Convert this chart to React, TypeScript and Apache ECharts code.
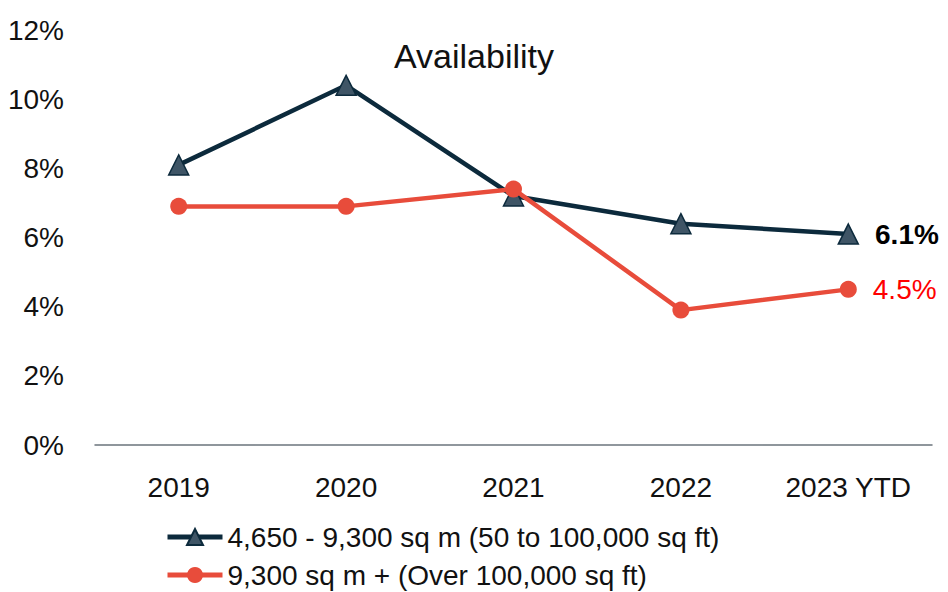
import React, { useEffect, useRef } from "react";
import * as echarts from "echarts";

const categories = ["2019", "2020", "2021", "2022", "2023 YTD"];
const smallUnits = [8.1, 10.4, 7.2, 6.4, 6.1];
const largeUnits = [6.9, 6.9, 7.4, 3.9, 4.5];
const seriesNames = ["4,650 - 9,300 sq m (50 to 100,000 sq ft)", "9,300 sq m + (Over 100,000 sq ft)"];
const FONT = "'Liberation Sans', Arial, sans-serif";

export default function App() {
  const ref = useRef<HTMLDivElement>(null);
  useEffect(() => {
    if (!ref.current) return;
    const chart = echarts.init(ref.current, null, { renderer: "svg" });
    const last = categories.length - 1;
    const mk = (vals: number[], labelStyle: any) =>
      vals.map((v, i) =>
        i === last
          ? { value: v, label: { show: true, position: "right", distance: 16, formatter: (p: any) => p.value.toFixed(1) + "%", ...labelStyle } }
          : v
      );
    chart.setOption({
      animation: false,
      textStyle: { fontFamily: FONT },
      title: {
        text: "Availability",
        left: "center",
        top: 34,
        textStyle: { fontFamily: FONT, fontSize: 34, fontWeight: "normal", color: "#111" },
      },
      grid: { left: 95, right: 16, top: 30, bottom: 147 },
      xAxis: {
        type: "category",
        data: categories,
        boundaryGap: true,
        axisLine: { lineStyle: { color: "#6b747c", width: 1.5 } },
        axisTick: { show: false },
        axisLabel: { color: "#111", fontSize: 28, fontFamily: FONT, margin: 28 },
      },
      yAxis: {
        type: "value",
        min: 0,
        max: 12,
        interval: 2,
        axisLine: { show: false },
        axisTick: { show: false },
        splitLine: { show: false },
        axisLabel: { color: "#111", fontSize: 28, fontFamily: FONT, margin: 31, formatter: "{value}%" },
      },
      legend: {
        orient: "vertical",
        left: 165,
        top: 522,
        padding: 0,
        itemWidth: 55,
        itemHeight: 20,
        itemGap: 8,
        lineStyle: { width: 5 },
        textStyle: { fontSize: 28, lineHeight: 30, color: "#111", fontFamily: FONT },
        data: seriesNames,
      },
      series: [
        {
          name: seriesNames[0],
          type: "line",
          data: mk(smallUnits, { color: "#000", fontWeight: "bold", fontSize: 28, fontFamily: FONT }),
          symbol: "triangle",
          symbolSize: 20,
          lineStyle: { color: "#0c2a3c", width: 4.5 },
          itemStyle: { color: "#3f5566", borderColor: "#0c2a3c", borderWidth: 1.5 },
        },
        {
          name: seriesNames[1],
          type: "line",
          data: mk(largeUnits, { color: "#ff0000", fontSize: 28, fontFamily: FONT }),
          symbol: "circle",
          symbolSize: 17,
          lineStyle: { color: "#e84c3b", width: 4.5 },
          itemStyle: { color: "#e84c3b" },
        },
      ],
    });
    return () => chart.dispose();
  }, []);
  return <div ref={ref} style={{ position: "absolute", left: 0, top: 0, width: 948, height: 592 }} />;
}
